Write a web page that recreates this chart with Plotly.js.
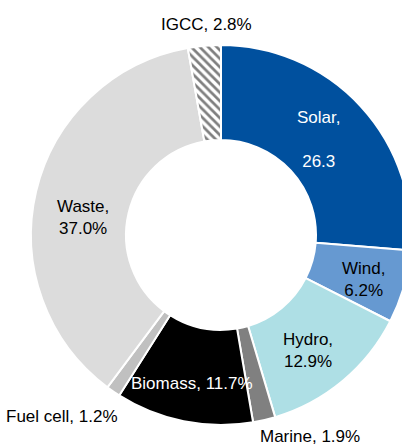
<!DOCTYPE html>
<html>
<head>
<meta charset="utf-8">
<script src="https://cdn.plot.ly/plotly-3.0.1.min.js"></script>
<style>
html, body { margin: 0; padding: 0; overflow: hidden; background: #fff; }
#chart { width: 420px; height: 448px; }
</style>
</head>
<body>
<div id="chart"></div>
<script>
// Data
const labels = ['Solar', 'Wind', 'Hydro', 'Marine', 'Biomass', 'Fuel cell', 'Waste', 'IGCC'];
const values = [26.3, 6.2, 12.9, 1.9, 11.7, 1.2, 37.0, 2.8];
const labelTexts = ['Solar,<br><br>26.3', 'Wind,<br>6.2%', 'Hydro,<br>12.9%', 'Marine, 1.9%',
                    'Biomass, 11.7%', 'Fuel cell, 1.2%', 'Waste,<br>37.0%', 'IGCC, 2.8%'];

// Styles
const colors = ['#00509e', '#6699d1', '#aedfe5', '#808080', '#000000', '#c0c0c0', '#dcdcdc', '#ffffff'];
const patternShapes = ['', '', '', '', '', '', '', '\\'];
const textColors = ['#ffffff', '#000000', '#000000', '#000000', '#ffffff', '#000000', '#000000', '#000000'];
// label centres in pixels (x, y from top)
const labelPos = [[318, 139], [363, 279], [308, 350], [310, 436], [192, 383], [62, 416], [83, 217], [206, 24]];

const W = 420, H = 448;
const FONT = '"Liberation Sans", Arial, sans-serif';

const trace = {
  type: 'pie',
  labels: labels,
  values: values,
  sort: false,
  direction: 'clockwise',
  rotation: 0,
  hole: 0.5,
  textinfo: 'none',
  hoverinfo: 'label+value',
  marker: {
    colors: colors,
    line: { color: '#ffffff', width: 2 },
    pattern: { shape: patternShapes, fgcolor: '#7f7f7f', size: 6, solidity: 0.45 }
  },
  domain: { x: [31 / W, 411 / W], y: [23 / H, 403 / H] },
  showlegend: false
};

const annotations = labelTexts.map((t, i) => ({
  xref: 'paper', yref: 'paper',
  x: labelPos[i][0] / W, y: 1 - labelPos[i][1] / H,
  xanchor: 'center', yanchor: 'middle',
  text: t, showarrow: false,
  font: { family: FONT, size: 17, color: textColors[i] }
}));

const layout = {
  width: W, height: H,
  margin: { l: 0, r: 0, t: 0, b: 0 },
  paper_bgcolor: '#ffffff',
  showlegend: false,
  annotations: annotations
};

Plotly.newPlot('chart', [trace], layout, { displayModeBar: false, staticPlot: true });
</script>
</body>
</html>
